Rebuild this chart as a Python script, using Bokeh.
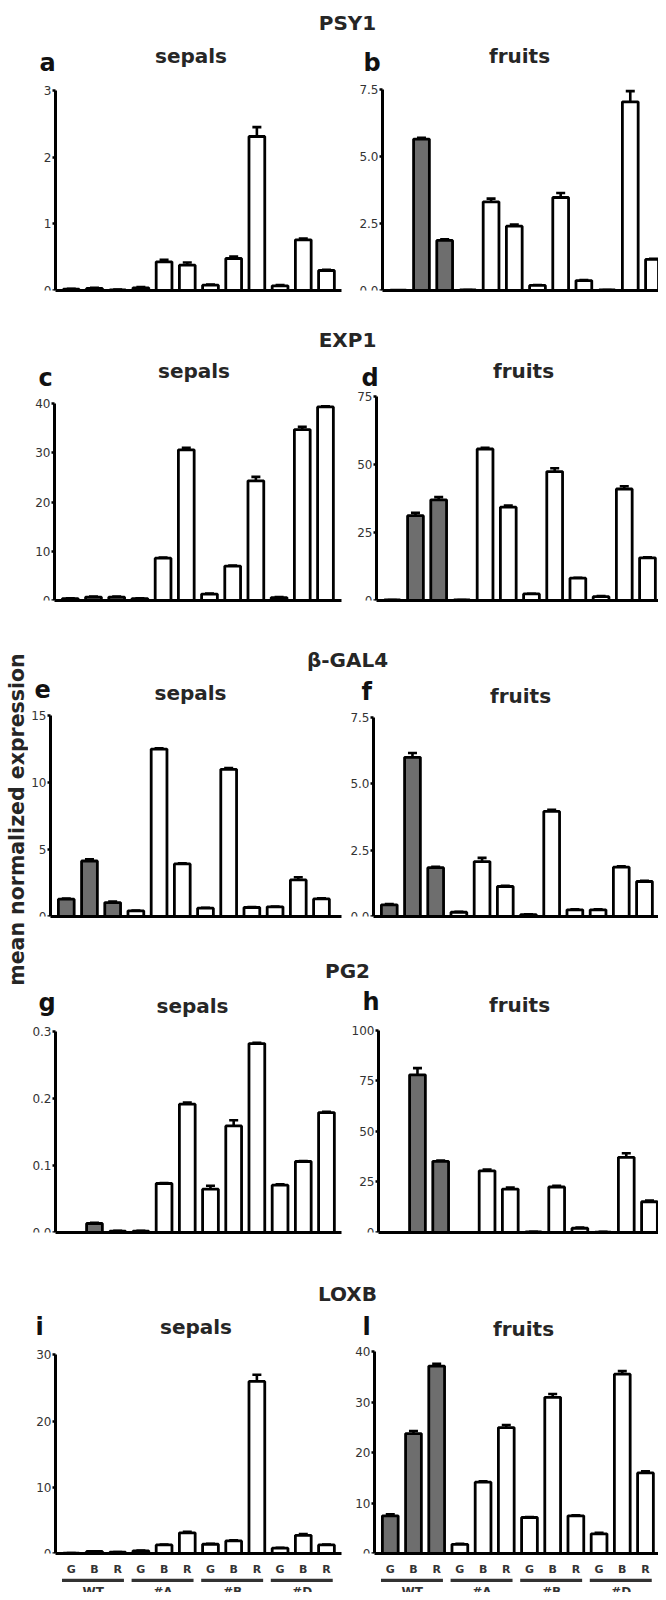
import math
from bokeh.plotting import figure
from bokeh.layouts import row, column
from bokeh.models import Range1d, FixedTicker, Whisker, ColumnDataSource, TeeHead
from bokeh.embed import file_html
from bokeh.resources import INLINE
from bokeh.core.properties import value

# ---------------- data ----------------
groups = ["WT", "#A", "#B", "#D"]
stages = ["G", "B", "R"]
genes = ["PSY1", "EXP1", "β-GAL4", "PG2", "LOXB"]
tissues = ["sepals", "fruits"]
letters = ["a", "b", "c", "d", "e", "f", "g", "h", "i", "l"]
ylabel = "mean normalized expression"

psy1_sepals = [0.02, 0.03, 0.01, 0.04, 0.43, 0.38, 0.08, 0.48, 2.31, 0.07, 0.76, 0.30]
psy1_sepals_err = [0.005, 0.01, 0.003, 0.01, 0.03, 0.04, 0.01, 0.03, 0.14, 0.01, 0.02, 0.01]
psy1_fruits = [0.01, 5.65, 1.87, 0.02, 3.31, 2.40, 0.19, 3.47, 0.37, 0.02, 7.04, 1.16]
psy1_fruits_err = [0.0, 0.05, 0.04, 0.0, 0.12, 0.06, 0.01, 0.17, 0.02, 0.0, 0.40, 0.02]

exp1_sepals = [0.4, 0.7, 0.7, 0.4, 8.6, 30.6, 1.3, 7.0, 24.3, 0.6, 34.7, 39.3]
exp1_sepals_err = [0.05, 0.1, 0.1, 0.05, 0.1, 0.4, 0.1, 0.1, 0.8, 0.1, 0.55, 0.15]
exp1_fruits = [0.2, 31.2, 37.0, 0.2, 55.7, 34.3, 2.4, 47.4, 8.2, 1.4, 41.0, 15.7]
exp1_fruits_err = [0.0, 1.0, 1.0, 0.0, 0.4, 0.6, 0.1, 1.2, 0.1, 0.2, 1.0, 0.2]

bgal4_sepals = [1.29, 4.14, 1.04, 0.42, 12.48, 3.92, 0.62, 10.97, 0.67, 0.72, 2.73, 1.31]
bgal4_sepals_err = [0.05, 0.12, 0.07, 0.03, 0.07, 0.04, 0.03, 0.10, 0.03, 0.03, 0.20, 0.04]
bgal4_fruits = [0.44, 6.00, 1.84, 0.16, 2.07, 1.13, 0.07, 3.96, 0.25, 0.25, 1.86, 1.32]
bgal4_fruits_err = [0.03, 0.16, 0.03, 0.02, 0.14, 0.03, 0.01, 0.06, 0.02, 0.02, 0.03, 0.03]

pg2_sepals = [0.0, 0.0134, 0.002, 0.002, 0.0731, 0.1915, 0.0647, 0.159, 0.282, 0.0706, 0.106, 0.179]
pg2_sepals_err = [0.0, 0.001, 0.0005, 0.0005, 0.0008, 0.0025, 0.005, 0.0085, 0.001, 0.0015, 0.0008, 0.001]
pg2_fruits = [0.0, 78.0, 35.2, 0.0, 30.5, 21.5, 0.3, 22.5, 2.1, 0.2, 37.2, 15.2]
pg2_fruits_err = [0.0, 3.3, 0.4, 0.0, 0.6, 0.7, 0.1, 0.6, 0.4, 0.1, 2.0, 0.6]

loxb_sepals = [0.05, 0.3, 0.2, 0.4, 1.3, 3.13, 1.4, 1.9, 26.0, 0.8, 2.74, 1.3]
loxb_sepals_err = [0.01, 0.05, 0.03, 0.05, 0.05, 0.15, 0.05, 0.10, 1.0, 0.05, 0.20, 0.05]
loxb_fruits = [7.47, 23.8, 37.2, 1.82, 14.16, 25.0, 7.14, 31.0, 7.47, 3.9, 35.6, 16.0]
loxb_fruits_err = [0.3, 0.5, 0.45, 0.1, 0.15, 0.5, 0.1, 0.65, 0.1, 0.2, 0.6, 0.3]

psy1_sepals_ticks = [0, 1, 2, 3]
psy1_sepals_labels = ["0", "1", "2", "3"]
psy1_fruits_ticks = [0, 2.5, 5, 7.5]
psy1_fruits_labels = ["0.0", "2.5", "5.0", "7.5"]
exp1_sepals_ticks = [0, 10, 20, 30, 40]
exp1_sepals_labels = ["0", "10", "20", "30", "40"]
exp1_fruits_ticks = [0, 25, 50, 75]
exp1_fruits_labels = ["0", "25", "50", "75"]
bgal4_sepals_ticks = [0, 5, 10, 15]
bgal4_sepals_labels = ["0", "5", "10", "15"]
bgal4_fruits_ticks = [0, 2.5, 5, 7.5]
bgal4_fruits_labels = ["0.0", "2.5", "5.0", "7.5"]
pg2_sepals_ticks = [0, 0.1, 0.2, 0.3]
pg2_sepals_labels = ["0.0", "0.1", "0.2", "0.3"]
pg2_fruits_ticks = [0, 25, 50, 75, 100]
pg2_fruits_labels = ["0", "25", "50", "75", "100"]
loxb_sepals_ticks = [0, 10, 20, 30]
loxb_sepals_labels = ["0", "10", "20", "30"]
loxb_fruits_ticks = [0, 10, 20, 30, 40]
loxb_fruits_labels = ["0", "10", "20", "30", "40"]

panels_data = [
    (psy1_sepals, psy1_sepals_err, psy1_sepals_ticks, psy1_sepals_labels),
    (psy1_fruits, psy1_fruits_err, psy1_fruits_ticks, psy1_fruits_labels),
    (exp1_sepals, exp1_sepals_err, exp1_sepals_ticks, exp1_sepals_labels),
    (exp1_fruits, exp1_fruits_err, exp1_fruits_ticks, exp1_fruits_labels),
    (bgal4_sepals, bgal4_sepals_err, bgal4_sepals_ticks, bgal4_sepals_labels),
    (bgal4_fruits, bgal4_fruits_err, bgal4_fruits_ticks, bgal4_fruits_labels),
    (pg2_sepals, pg2_sepals_err, pg2_sepals_ticks, pg2_sepals_labels),
    (pg2_fruits, pg2_fruits_err, pg2_fruits_ticks, pg2_fruits_labels),
    (loxb_sepals, loxb_sepals_err, loxb_sepals_ticks, loxb_sepals_labels),
    (loxb_fruits, loxb_fruits_err, loxb_fruits_ticks, loxb_fruits_labels),
]

cats = [(g, s) for g in groups for s in stages]

# ---------------- layout / style (page pixels) ----------------
FONT = "DejaVu Sans"
WT_FILL = "#6e6e6e"
TXT = "#262626"
PITCH = 23.2
X0 = -0.68
PAGE_X0 = 8
PAGE_Y0 = 8
LABEL_W = 28
LEFT_W = 320
RIGHT_W = 310
COL_W = LEFT_W + RIGHT_W
LEFT_X = PAGE_X0 + LABEL_W      # 36
RIGHT_X = LEFT_X + LEFT_W       # 356
TOTAL_H = 1592
LEFT_FRAME_RIGHT = 349

# header rows (gene titles only): page y of top/bottom, gene baseline
header_cfg = [
    dict(top=8, bottom=44, gene_base=30),
    dict(top=310, bottom=360, gene_base=347),
    dict(top=620, bottom=680, gene_base=667),
    dict(top=937, bottom=991, gene_base=978),
    dict(top=1253, bottom=1315, gene_base=1301),
]
ROW_BOTTOMS = [310, 620, 937, 1253, 1586]
GENE_CX = 355

# per panel: axis page x, zero line page y, frame height, letter origin, tissue centre/baseline (page)
panel_cfg = [
    dict(ax=63, zero=298, fh=200, let=(47, 70), tis=(198.5, 63)),
    dict(ax=390, zero=298, fh=201, let=(371, 70), tis=(527, 63)),
    dict(ax=62, zero=608, fh=197, let=(46, 385), tis=(201.5, 378)),
    dict(ax=384, zero=608, fh=204, let=(369, 385), tis=(531, 378)),
    dict(ax=58, zero=925, fh=202, let=(42, 697), tis=(198, 701)),
    dict(ax=381, zero=924, fh=199, let=(369, 699), tis=(528, 703)),
    dict(ax=63, zero=1240, fh=201, let=(46, 1010), tis=(200, 1013)),
    dict(ax=386, zero=1241, fh=203, let=(370, 1010), tis=(527, 1013)),
    dict(ax=63, zero=1564, fh=201, let=(43, 1335), tis=(203.5, 1334.5)),
    dict(ax=382, zero=1564, fh=204, let=(370, 1335), tis=(531, 1337)),
]


def blank_fig(width, height, xr, yr, mbl=0, mbr=0):
    f = figure(width=width, height=height, x_range=xr, y_range=yr,
               title=None, toolbar_location=None, output_backend="svg",
               x_axis_location=None, y_axis_location=None,
               min_border_left=mbl, min_border_right=mbr, min_border_top=0, min_border_bottom=0,
               background_fill_color="white", border_fill_color="white")
    f.outline_line_color = None
    f.grid.visible = False
    return f


def make_panel(k, row_top, row_bottom, bottom):
    vals, errs, ticks, tlabels = panels_data[k]
    cfg = panel_cfg[k]
    is_left = (k % 2 == 0)
    width = LEFT_W if is_left else RIGHT_W
    fig_x = LEFT_X if is_left else RIGHT_X
    ph = row_bottom - row_top
    mbr = (LEFT_X + LEFT_W - LEFT_FRAME_RIGHT) if is_left else 0
    mbb = row_bottom - cfg["zero"]
    ymax = ticks[-1]
    fh = cfg["fh"]
    ax = cfg["ax"]
    # frame covers the whole figure above the x axis; axes are pinned to data positions
    fw = width - mbr
    x_start = X0 - (ax - fig_x) / PITCH
    x_end = x_start + fw / PITCH
    y_end = ymax * (cfg["zero"] - row_top) / fh
    xr = Range1d(x_start, x_end)
    yr = Range1d(0, y_end)
    p = figure(width=width, height=ph, x_range=xr, y_range=yr, title=None,
               toolbar_location=None, output_backend="svg",
               min_border_left=0, min_border_right=mbr,
               min_border_top=0, min_border_bottom=mbb,
               background_fill_color="white", border_fill_color="white")
    p.outline_line_color = None
    p.grid.visible = False

    idx = list(range(len(vals)))
    fills = [WT_FILL if cats[i][0] == "WT" else "white" for i in idx]
    src = ColumnDataSource(dict(x=idx, top=vals,
                                upper=[v + e for v, e in zip(vals, errs)],
                                fill=fills))
    p.vbar(x="x", top="top", bottom=0, width=0.68, fill_color="fill",
           line_color="black", line_width=2.8, source=src)
    wh = Whisker(source=src, base="x", lower="top", upper="upper", dimension="height",
                 line_color="black", line_width=2.6,
                 upper_head=TeeHead(size=9, line_color="black", line_width=2.6),
                 lower_head=None)
    p.add_layout(wh)

    ya = p.yaxis[0]
    ya.fixed_location = X0
    ya.bounds = (0, ymax)
    ya.ticker = FixedTicker(ticks=ticks)
    ya.major_label_overrides = dict(zip(ticks, tlabels))
    ya.axis_line_width = 3
    ya.axis_line_color = "black"
    ya.major_tick_in = 0
    ya.major_tick_out = 3
    ya.major_tick_line_width = 2.5
    ya.major_tick_line_color = "black"
    ya.minor_tick_line_color = None
    ya.major_label_standoff = 1
    ya.major_label_text_font = FONT
    ya.major_label_text_font_size = "12px"
    ya.major_label_text_color = "#333333"
    ya.major_label_text_baseline = "bottom"

    xa = p.xaxis[0]
    xa.bounds = (X0, x_end)
    xa.axis_line_width = 3
    xa.axis_line_color = "black"
    xa.major_tick_in = 0
    xa.major_tick_out = 0
    xa.major_tick_line_color = None
    xa.minor_tick_line_color = None
    if bottom:
        xa.ticker = FixedTicker(ticks=idx)
        xa.major_label_overrides = {i: cats[i][1] for i in idx}
        xa.major_label_standoff = 9
        xa.major_label_text_font = FONT
        xa.major_label_text_font_style = "bold"
        xa.major_label_text_font_size = "11px"
        xa.major_label_text_color = "#333333"
    else:
        xa.ticker = FixedTicker(ticks=[])
        xa.major_label_text_font_size = "0px"

    def dx(px):
        return X0 + (px - ax) / PITCH

    def dy(py):
        return ymax * (cfg["zero"] - py) / fh

    p.text(x=[dx(cfg["let"][0])], y=[dy(cfg["let"][1])], text=[letters[k]],
           text_align="left", text_baseline="alphabetic", text_font=value(FONT),
           text_font_style="bold", text_font_size="24px", text_color="#111111")
    p.text(x=[dx(cfg["tis"][0])], y=[dy(cfg["tis"][1])], text=[tissues[k % 2]],
           text_align="center", text_baseline="alphabetic", text_font=value(FONT),
           text_font_style="bold", text_font_size="20px", text_color=TXT)
    return p, xr, width, mbr


def make_header(r):
    hc = header_cfg[r]
    h = hc["bottom"] - hc["top"]
    t = blank_fig(COL_W, h, Range1d(0, COL_W), Range1d(0, h))
    t.text(x=[GENE_CX - LEFT_X], y=[hc["bottom"] - hc["gene_base"]], text=[genes[r]],
           text_align="center", text_baseline="alphabetic", text_font=value(FONT),
           text_font_style="bold", text_font_size="20px", text_color=TXT)
    return t


def make_strip(xr, width, mbr, h):
    s = blank_fig(width, h, xr, Range1d(0, h), 0, mbr)
    gl = [3 * g - 0.4 for g in range(len(groups))]
    gr = [3 * g + 2 + 0.27 for g in range(len(groups))]
    s.quad(left=gl, right=gr, top=h, bottom=h - 3.5, fill_color="#333333", line_color=None)
    s.text(x=[3 * g + 0.95 for g in range(len(groups))], y=[h - 6] * len(groups), text=groups,
           text_align="center", text_baseline="top", text_font=value(FONT),
           text_font_style="bold", text_font_size="12px", text_color="#333333")
    return s


items = []
bottom_info = []
for r in range(len(genes)):
    items.append(make_header(r))
    is_bottom = (r == len(genes) - 1)
    row_top = header_cfg[r]["bottom"]
    row_bottom = ROW_BOTTOMS[r]
    pl, xrl, wl, mbrl = make_panel(2 * r, row_top, row_bottom, is_bottom)
    pr, xrr, wr, mbrr = make_panel(2 * r + 1, row_top, row_bottom, is_bottom)
    items.append(row(pl, pr))
    if is_bottom:
        bottom_info = [(xrl, wl, mbrl), (xrr, wr, mbrr)]

strip_h = PAGE_Y0 + TOTAL_H - ROW_BOTTOMS[-1]
items.append(row(*[make_strip(xr, w, b, strip_h) for (xr, w, b) in bottom_info]))

lab = blank_fig(LABEL_W, TOTAL_H, Range1d(0, LABEL_W), Range1d(0, TOTAL_H))
lab.text(x=[24.2 - PAGE_X0], y=[TOTAL_H - (827 - PAGE_Y0)], text=[ylabel], angle=math.pi / 2,
         text_align="center", text_baseline="middle", text_font=value(FONT),
         text_font_style="bold", text_font_size="20.5px", text_color=TXT)

layout = row(lab, column(*items))

open("out.html", "w").write(file_html(layout, INLINE))
